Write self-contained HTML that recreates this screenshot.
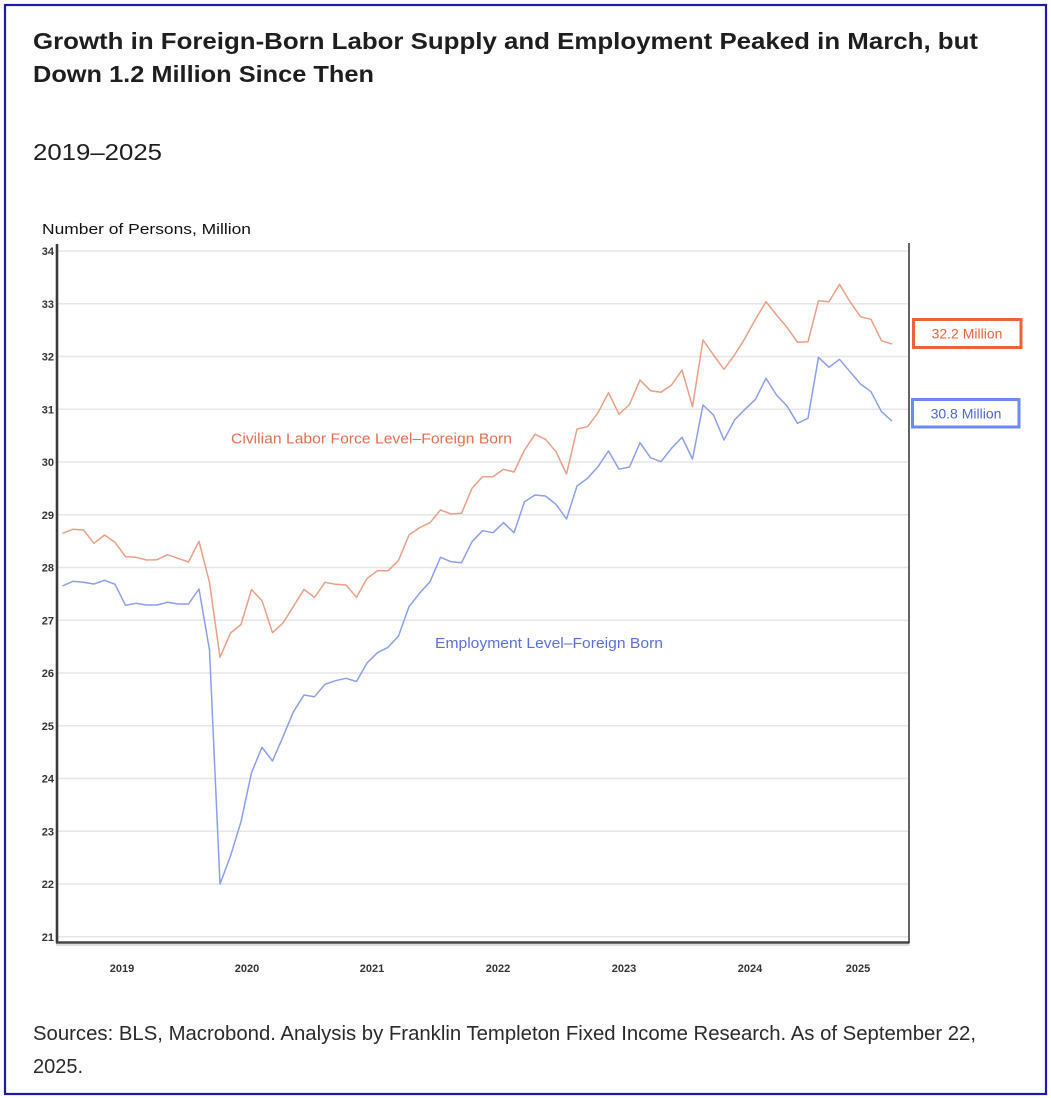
<!DOCTYPE html>
<html>
<head>
<meta charset="utf-8">
<style>
  html, body { margin:0; padding:0; background:#ffffff; }
  body { width:1051px; height:1098px; overflow:hidden; }
  svg { display:block; }
  text { font-family: "Liberation Sans", sans-serif; }
</style>
</head>
<body>
<svg width="1051" height="1098" viewBox="0 0 1051 1098" xmlns="http://www.w3.org/2000/svg">
  <rect x="0" y="0" width="1051" height="1098" fill="#ffffff"/>
  <!-- outer border -->
  <rect x="5" y="5" width="1041" height="1089" fill="none" stroke="#1a1aae" stroke-width="2.2"/>

  <!-- Title -->
  <text x="33" y="49" font-size="23" font-weight="bold" fill="#1e1e1e" textLength="945" lengthAdjust="spacingAndGlyphs">Growth in Foreign-Born Labor Supply and Employment Peaked in March, but</text>
  <text x="33" y="82" font-size="23" font-weight="bold" fill="#1e1e1e" textLength="341" lengthAdjust="spacingAndGlyphs">Down 1.2 Million Since Then</text>
  <text x="33" y="160" font-size="23" fill="#1e1e1e" textLength="129" lengthAdjust="spacingAndGlyphs">2019–2025</text>

  <!-- axis title -->
  <text x="42" y="234" font-size="15" fill="#111" textLength="209" lengthAdjust="spacingAndGlyphs">Number of Persons, Million</text>

  <!-- gridlines -->
  <g stroke="#e6e6e6" stroke-width="1.5">
    <line x1="58" x2="908" y1="251" y2="251"/>
    <line x1="58" x2="908" y1="303.75" y2="303.75"/>
    <line x1="58" x2="908" y1="356.5" y2="356.5"/>
    <line x1="58" x2="908" y1="409.25" y2="409.25"/>
    <line x1="58" x2="908" y1="462" y2="462"/>
    <line x1="58" x2="908" y1="514.75" y2="514.75"/>
    <line x1="58" x2="908" y1="567.5" y2="567.5"/>
    <line x1="58" x2="908" y1="620.25" y2="620.25"/>
    <line x1="58" x2="908" y1="673" y2="673"/>
    <line x1="58" x2="908" y1="725.75" y2="725.75"/>
    <line x1="58" x2="908" y1="778.5" y2="778.5"/>
    <line x1="58" x2="908" y1="831.25" y2="831.25"/>
    <line x1="58" x2="908" y1="884" y2="884"/>
    <line x1="58" x2="908" y1="936.75" y2="936.75"/>
  </g>

  <!-- y tick labels -->
  <g font-size="11" fill="#333" text-anchor="end" font-weight="bold">
    <text x="54" y="255">34</text>
    <text x="54" y="307.75">33</text>
    <text x="54" y="360.5">32</text>
    <text x="54" y="413.25">31</text>
    <text x="54" y="466">30</text>
    <text x="54" y="518.75">29</text>
    <text x="54" y="571.5">28</text>
    <text x="54" y="624.25">27</text>
    <text x="54" y="677">26</text>
    <text x="54" y="729.75">25</text>
    <text x="54" y="782.5">24</text>
    <text x="54" y="835.25">23</text>
    <text x="54" y="888">22</text>
    <text x="54" y="940.75">21</text>
  </g>

  <!-- axes -->
  <line x1="57" y1="244" x2="57" y2="943" stroke="#3a3a3a" stroke-width="2.6"/>
  <line x1="56" y1="942.5" x2="909.5" y2="942.5" stroke="#444" stroke-width="2.6"/>
  <line x1="56" y1="945" x2="909.5" y2="945" stroke="#bbb" stroke-width="1"/>
  <line x1="909" y1="243" x2="909" y2="943" stroke="#222" stroke-width="1.4"/>

  <!-- x tick labels -->
  <g font-size="11" fill="#333" text-anchor="middle" font-weight="bold">
    <text x="122" y="972">2019</text>
    <text x="247" y="972">2020</text>
    <text x="372" y="972">2021</text>
    <text x="498" y="972">2022</text>
    <text x="624" y="972">2023</text>
    <text x="750" y="972">2024</text>
    <text x="858" y="972">2025</text>
  </g>

  <!-- Labor force series (orange) -->
  <polyline fill="none" stroke="#eb9f86" stroke-width="1.5" stroke-linejoin="round" points="
62.5,533.3 73,529.3 83.5,530 94,543.3 104.5,535 115,542.3 125.5,556.7 136,557.3 146.5,560 157,559.7
167.5,554.7 178,558.3 188.5,562 199,541.3 209.5,582.5 220,657.3 230.5,633 241,624.5 251.5,589.5 262,600.7
272.5,632.7 283,623 293.5,606.3 304,589.3 314.5,597.5 325,582.3 335.5,584.3 346,585 356.5,597.3 367,578.5
377.5,570.8 388,570.8 398.5,560.5 409,535 419.5,527.7 430,522.7 440.5,510 451,514 461.5,513.3 472,488.3
482.5,476.7 493,476.7 503.5,469.3 514,472 524.5,450 535,434.3 545.5,439.3 556,451.7 566.5,474 577,429
587.5,426.7 598,412.7 608.5,392.7 619,414.2 629.5,404.5 640,380 650.5,390.7 661,392.3 671.5,385 682,370
692.5,406.7 703,340 713.5,355 724,369.3 734.5,355 745,338.3 755.5,319.3 766,301.7 776.5,315 787,327.3
797.5,342.3 808,341.7 818.5,300.7 829,301.7 839.5,284.3 850,301.7 860.5,316.7 871,319.3 881.5,340.7 892,344"/>

  <!-- Employment series (blue) -->
  <polyline fill="none" stroke="#8c9fea" stroke-width="1.5" stroke-linejoin="round" points="
62.5,586 73,581.3 83.5,582.3 94,584 104.5,580.3 115,584.3 125.5,605.3 136,603.3 146.5,605 157,605
167.5,602.3 178,604 188.5,604 199,589 209.5,650 220,884 230.5,856 241,821.7 251.5,772.7 262,747.3
272.5,761 283,736.7 293.5,711.7 304,695 314.5,696.7 325,684.3 335.5,680.7 346,678.3 356.5,681.5 367,663
377.5,652.7 388,647.3 398.5,636 409,606.7 419.5,593.3 430,581.7 440.5,557.3 451,561.7 461.5,562.7 472,541.7
482.5,530.7 493,532.7 503.5,522.7 514,532.7 524.5,501.7 535,495 545.5,496 556,504.3 566.5,519 577,486
587.5,478.3 598,466.7 608.5,451 619,469.2 629.5,467 640,442.7 650.5,457.7 661,461.7 671.5,448.3 682,437.3
692.5,459 703,405 713.5,415 724,440 734.5,420 745,409.3 755.5,399.3 766,378.3 776.5,395 787,406
797.5,423.3 808,418.3 818.5,357.3 829,367.3 839.5,359.3 850,371.7 860.5,384 871,391.7 881.5,411.7 892,421"/>

  <!-- series labels -->
  <text x="231" y="443.5" font-size="15" fill="#e2704f" textLength="281" lengthAdjust="spacingAndGlyphs">Civilian Labor Force Level–Foreign Born</text>
  <text x="435" y="648" font-size="15" fill="#5a70d8" textLength="228" lengthAdjust="spacingAndGlyphs">Employment Level–Foreign Born</text>

  <!-- end value boxes -->
  <rect x="913.5" y="319.5" width="107.5" height="28" fill="#ffffff" stroke="#e9643a" stroke-width="3"/>
  <text x="967" y="338.5" font-size="14" fill="#e0653f" text-anchor="middle">32.2 Million</text>
  <rect x="912.5" y="399.5" width="106.5" height="27.5" fill="#ffffff" stroke="#6c8bee" stroke-width="3"/>
  <text x="966" y="418.5" font-size="14" fill="#4d66d6" text-anchor="middle">30.8 Million</text>

  <!-- sources -->
  <text x="33" y="1040" font-size="20" fill="#2a2a2a" textLength="943" lengthAdjust="spacingAndGlyphs">Sources: BLS, Macrobond. Analysis by Franklin Templeton Fixed Income Research. As of September 22,</text>
  <text x="33" y="1073" font-size="20" fill="#2a2a2a">2025.</text>
</svg>
</body>
</html>
